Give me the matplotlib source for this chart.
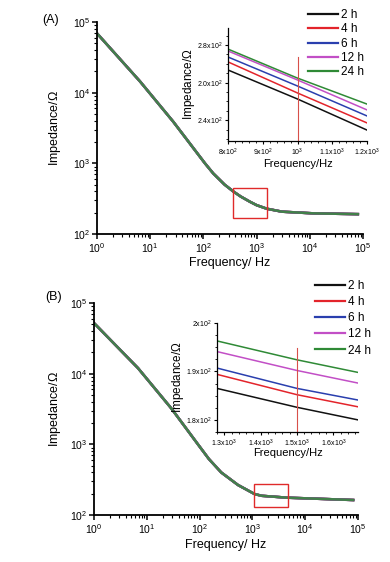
import matplotlib
matplotlib.use("Agg")
import matplotlib.pyplot as plt
from matplotlib.patches import Rectangle
from matplotlib.ticker import LogLocator, NullFormatter, FixedLocator, AutoMinorLocator

plt.rcParams["font.family"] = ["Liberation Sans", "DejaVu Sans"]
plt.rcParams["mathtext.default"] = "regular"

# ---------------------------------------------------------------------------
# Data
# ---------------------------------------------------------------------------
labels = ["2 h", "4 h", "6 h", "12 h", "24 h"]
colors = ["#111111", "#e3242b", "#2a3fae", "#c24fc6", "#2f8a36"]

# panel A, full spectrum (curves coincide at this scale)
freq_a = [1, 6.4, 27, 107, 153, 250, 365, 500, 750, 1000, 1550, 3000, 11600, 80000]
imp_a = [69000, 14500, 3900, 1000, 720, 500, 400, 340, 286, 256, 228, 207, 196, 191]
box_a = [365, 1590, 170, 443]          # f0, f1, z0, z1

# panel A, zoomed inset
inset_freq_a = [800, 1000, 1200]
inset_imp_a = [
    [266.7, 251.3, 234.8],
    [271.0, 254.5, 238.6],
    [273.6, 258.2, 242.3],
    [276.8, 261.4, 245.5],
    [277.8, 262.4, 248.6],
]
inset_yticks_a = [240, 260, 280]
inset_yticklabels_a = ["2.4x10$^2$", "2.0x10$^2$", "2.8x10$^2$"]
inset_xticks_a = [800, 900, 1000, 1100, 1200]
inset_xticklabels_a = ["8x10$^2$", "9x10$^2$", "10$^3$", "1.1x10$^3$", "1.2x10$^3$"]
marker_a = 1000

# panel B, full spectrum
freq_b = [1, 6.8, 29, 93, 150, 257, 533, 1100, 1500, 4450, 81000]
imp_b = [52000, 12000, 3240, 1000, 620, 400, 266, 198, 187, 176, 163]
box_b = [1070, 4720, 130, 275]

# panel B, zoomed inset
inset_freq_b = [1280, 1500, 1668]
inset_imp_b = [
    [186.5, 182.6, 180.0],
    [189.4, 185.2, 182.7],
    [190.7, 186.5, 184.1],
    [194.1, 190.2, 187.6],
    [196.3, 192.4, 189.8],
]
inset_yticks_b = [180, 190, 200]
inset_yticklabels_b = ["1.8x10$^2$", "1.9x10$^2$", "2x10$^2$"]
inset_xticks_b = [1300, 1400, 1500, 1600]
inset_xticklabels_b = ["1.3x10$^3$", "1.4x10$^3$", "1.5x10$^3$", "1.6x10$^3$"]
marker_b = 1500

W, H = 390, 562


def rect(left, top, right, bottom):
    return [left / W, 1 - bottom / H, (right - left) / W, (bottom - top) / H]


def style_axes(ax, lw):
    for s in ("top", "right"):
        ax.spines[s].set_visible(False)
    for s in ("left", "bottom"):
        ax.spines[s].set_linewidth(lw)


def main_panel(fig, box, freq, imp, zoom_box, ylab_x, xlab_y):
    ax = fig.add_axes(box)
    for c in colors:
        ax.plot(freq, imp, color=c, lw=1.8, alpha=0.85)
    ax.set_xscale("log")
    ax.set_yscale("log")
    ax.set_xlim(1, 1e5)
    ax.set_ylim(1e2, 1e5)
    ax.xaxis.set_major_locator(LogLocator(base=10, numticks=10))
    ax.xaxis.set_minor_locator(LogLocator(base=10, subs=range(2, 10), numticks=20))
    ax.yaxis.set_minor_locator(LogLocator(base=10, subs=range(2, 10), numticks=20))
    ax.xaxis.set_minor_formatter(NullFormatter())
    ax.yaxis.set_minor_formatter(NullFormatter())
    ax.tick_params(which="major", direction="out", length=3.5, width=1.1, labelsize=7.5, pad=1.5)
    ax.tick_params(which="minor", direction="out", length=2, width=0.8)
    style_axes(ax, 1.3)
    f0, f1, z0, z1 = zoom_box
    ax.add_patch(Rectangle((f0, z0), f1 - f0, z1 - z0, fill=False, ec="#e02a2a", lw=1.0, zorder=5))
    ax.set_xlabel("Frequency/ Hz", fontsize=9)
    ax.set_ylabel("Impedance/$\\Omega$", fontsize=9)
    ax.xaxis.set_label_coords(0.5, xlab_y)
    ax.yaxis.set_label_coords(ylab_x, 0.5)
    return ax


def inset_panel(fig, box, freq, imps, xlim, ylim, xt, xtl, yt, ytl, marker, mark_top,
                ylab_x, xlab_y):
    ax = fig.add_axes(box)
    for c, z in zip(colors, imps):
        ax.plot(freq, z, color=c, lw=1.1)
    ax.axvline(marker, ymin=0, ymax=mark_top, color="#d8504a", lw=0.8)
    ax.set_xlim(*xlim)
    ax.set_ylim(*ylim)
    ax.xaxis.set_major_locator(FixedLocator(xt))
    ax.set_xticklabels(xtl)
    ax.yaxis.set_major_locator(FixedLocator(yt))
    ax.set_yticklabels(ytl)
    ax.xaxis.set_minor_locator(AutoMinorLocator(5))
    ax.yaxis.set_minor_locator(AutoMinorLocator(4))
    ax.tick_params(which="major", direction="out", length=2.5, width=0.8, labelsize=5, pad=1.5)
    ax.tick_params(which="minor", direction="out", length=1.3, width=0.6)
    style_axes(ax, 0.9)
    ax.set_xlabel("Frequency/Hz", fontsize=8)
    ax.set_ylabel("Impedance/$\\Omega$", fontsize=8.5)
    ax.yaxis.set_label_coords(ylab_x, 0.5)
    ax.xaxis.set_label_coords(0.5, xlab_y)
    return ax


fig = plt.figure(figsize=(W / 100, H / 100), dpi=100)

main_panel(fig, rect(97, 22, 363, 234), freq_a, imp_a, box_a, -0.128, -0.108)
main_panel(fig, rect(94, 303, 358, 515), freq_b, imp_b, box_b, -0.117, -0.113)

inset_panel(fig, rect(228, 28, 367, 141), inset_freq_a, inset_imp_a,
            (800, 1200), (229, 289), inset_xticks_a, inset_xticklabels_a,
            inset_yticks_a, inset_yticklabels_a, marker_a, 0.74, -0.22, -0.16)
inset_panel(fig, rect(217, 323, 358, 432), inset_freq_b, inset_imp_b,
            (1280, 1668), (177.5, 200), inset_xticks_b, inset_xticklabels_b,
            inset_yticks_b, inset_yticklabels_b, marker_b, 0.77, -0.22, -0.147)

handles = [plt.Line2D([], [], color=c, lw=1.6) for c in colors]
fig.legend(handles, labels, loc="upper left", bbox_to_anchor=(308 / W, 1 - 9 / H),
           frameon=False, fontsize=8.5, handlelength=2.5, handletextpad=0.3,
           labelspacing=0.2, borderpad=0, borderaxespad=0)
fig.legend(handles, labels, loc="upper left", bbox_to_anchor=(315 / W, 1 - 280 / H),
           frameon=False, fontsize=8.5, handlelength=2.5, handletextpad=0.3,
           labelspacing=0.35, borderpad=0, borderaxespad=0)

fig.text(51 / W, 1 - 20 / H, "(A)", fontsize=9, ha="center", va="center")
fig.text(54 / W, 1 - 297 / H, "(B)", fontsize=9, ha="center", va="center")

fig.savefig("out.png", dpi=100)
